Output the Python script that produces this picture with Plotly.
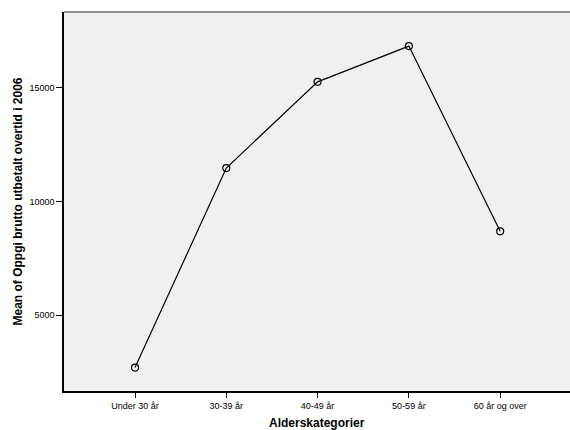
import plotly.graph_objects as go

categories = ["Under 30 år", "30-39 år", "40-49 år", "50-59 år", "60 år og over"]
mean_overtime = [2700, 11470, 15260, 16830, 8690]
y_ticks = [5000, 10000, 15000]
y_tick_labels = ["5000", "10000", "15000"]

fig = go.Figure()
fig.add_trace(go.Scatter(
    x=list(range(len(categories))), y=mean_overtime,
    mode="lines+markers",
    line=dict(color="black", width=1.2),
    marker=dict(symbol="circle-open", size=7, color="black", line=dict(width=1.2)),
    showlegend=False, hoverinfo="skip",
))

fig.update_layout(
    width=570, height=430,
    margin=dict(l=64, r=0, t=12, b=39),
    paper_bgcolor="white", plot_bgcolor="#f0f0f0",
    font=dict(family="Liberation Sans, Arial, sans-serif", size=9, color="black"),
    xaxis=dict(
        range=[-0.778, 4.765], automargin=False,
        tickmode="array", tickvals=list(range(len(categories))), ticktext=categories,
        ticks="outside", ticklen=5, tickwidth=1, tickcolor="black",
        showline=True, linecolor="black", linewidth=1.5,
        showgrid=False, zeroline=False,
    ),
    yaxis=dict(
        range=[1671, 18329], automargin=False,
        tickmode="array", tickvals=y_ticks, ticktext=y_tick_labels,
        ticks="outside", ticklen=6, tickwidth=1, tickcolor="black",
        showline=True, linecolor="black", linewidth=1.5,
        showgrid=False, zeroline=False,
    ),
    shapes=[dict(type="line", xref="paper", yref="paper", x0=0, x1=1, y0=1, y1=1,
                 line=dict(color="#707070", width=1.5))],
    annotations=[
        dict(text="<b>Alderskategorier</b>", xref="paper", yref="paper",
             x=0.5, y=-32/379, xanchor="center", yanchor="middle",
             showarrow=False, font=dict(size=12)),
        dict(text="<b>Mean of Oppgi brutto utbetalt overtid i 2006</b>", xref="paper", yref="paper",
             x=-47/506, y=0.5, xanchor="center", yanchor="middle", textangle=-90,
             showarrow=False, font=dict(size=12)),
    ],
)

fig.write_html("out.html", config={"displayModeBar": False},
               post_script="document.body.style.margin='0px';")
